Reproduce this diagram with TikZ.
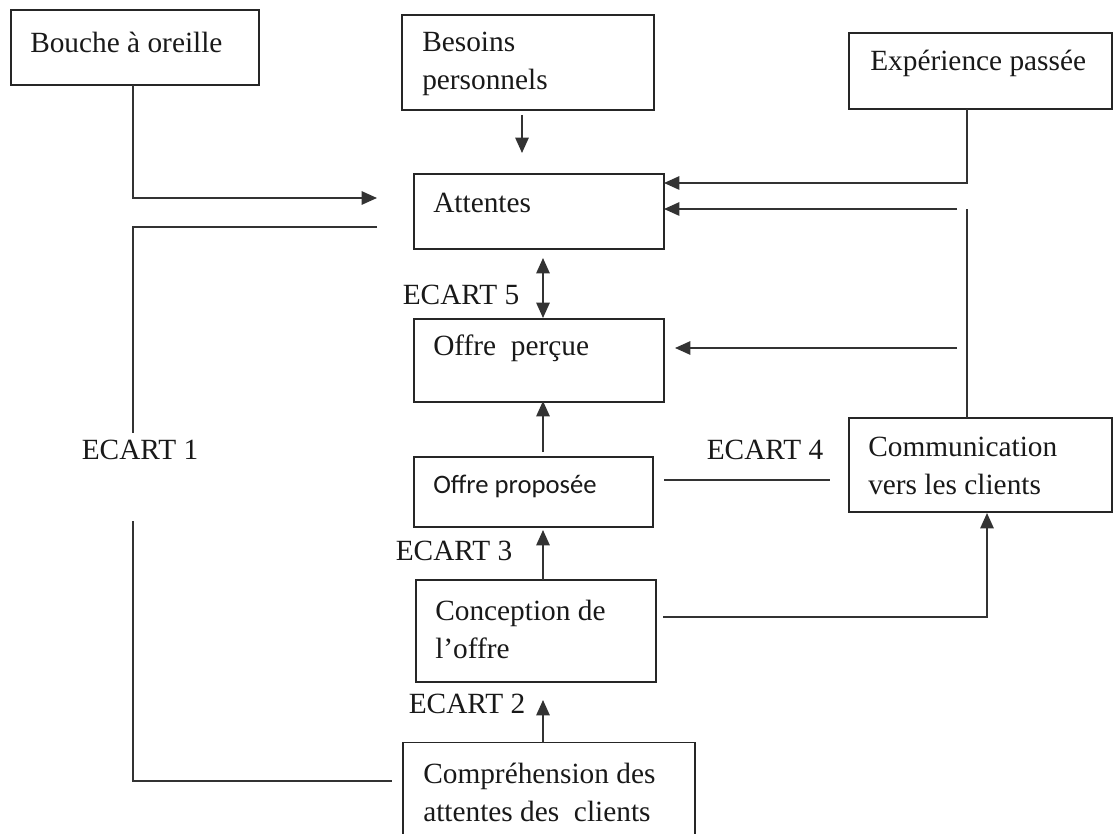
\documentclass[tikz,border=0pt]{standalone}
\usepackage{fontspec}
\setmainfont{Liberation Serif}
\newfontfamily\propfont{Carlito}
\usetikzlibrary{arrows.meta}
\begin{document}
\begin{tikzpicture}[x=0.75pt,y=-0.75pt,
  box/.style={draw=black!85,line width=1.3pt,inner sep=0pt,outer sep=0pt,rectangle},
  txt/.style={anchor=west,inner sep=0pt,align=left,text=black!90,
    font=\fontsize{22}{28.5}\selectfont},
  gap/.style={anchor=center,inner sep=0pt,text=black!90,font=\fontsize{22}{26}\selectfont},
  wire/.style={draw=black!80,line width=1.3pt},
  arr/.style={wire,-{Triangle[length=11.5pt,width=10pt]}},
  darr/.style={wire,{Triangle[length=11.5pt,width=10pt]}-{Triangle[length=11.5pt,width=10pt]}}]
\useasboundingbox[fill=white] (0,0) rectangle (1114,834);

% boxes
\node[box,minimum width=186pt,minimum height=56.25pt] (bouche) at (135,47.5) {};
\node[box,minimum width=189pt,minimum height=71.25pt] (besoins) at (528,62.5) {};
\node[box,minimum width=197.25pt,minimum height=57pt] (exp) at (980.5,71) {};
\node[box,minimum width=187.5pt,minimum height=56.25pt] (att) at (539,211.5) {};
\node[box,minimum width=187.5pt,minimum height=62.25pt] (perc) at (539,360.5) {};
\node[box,minimum width=179.25pt,minimum height=52.5pt] (prop) at (533.5,492) {};
\node[box,minimum width=197.25pt,minimum height=70.5pt] (comm) at (980.5,465) {};
\node[box,minimum width=180pt,minimum height=76.5pt] (conc) at (536,631) {};
\node[box,minimum width=219pt,minimum height=81pt] (compr) at (549,796.5) {};

% box texts
\node[txt] (tbouche) at (30,42) {Bouche à oreille};
\node[txt] (tbesoins) at (422,64) {Besoins\\personnels};
\node[txt] (texp) at (870,63) {Expérience passée};
\node[txt] (tatt) at (433,203) {Attentes};
\node[txt] (tperc) at (433,348) {Offre\ \ perçue};
\node[txt,font=\propfont\fontsize{20}{24}\selectfont] (tprop) at (433,486) {Offre proposée};
\node[txt] (tcomm) at (868,466) {Communication\\vers les clients};
\node[txt] (tconc) at (435,629) {Conception de\\l’offre};
\node[txt] (tcompr) at (423,792) {Compréhension des\\attentes des\ \ clients};

% gap labels
\node[gap] (e1) at (140,450) {ECART 1};
\node[gap] (e2) at (467,704) {ECART 2};
\node[gap] (e3) at (454,551) {ECART 3};
\node[gap] (e4) at (765,450) {ECART 4};
\node[gap] (e5) at (461,295) {ECART 5};

% connectors
\draw[arr] ([shift={(-6,5)}]besoins.south) -- ([shift={(-17,-21)}]att.north);
\draw[arr] ([xshift=-1.5pt]bouche.south) |- ([shift={(-37,-13.5)}]att.west);
\draw[wire] ([shift={(-37,15.5)}]att.west) -| ([shift={(-7,-7)}]e1.north);
\draw[wire] ([shift={(-7,61)}]e1.south) |- ([shift={(-11,-15.5)}]compr.west);
\draw[arr] ([xshift=-10.125pt]exp.south) |- ([yshift=21.375pt]att.east);
\draw[wire] ([xshift=-10.125pt]comm.north) -- ([shift={(-13.5,-209)}]comm.north -| comm.north);
\draw[arr] ([shift={(-23.5,-2.5)}]att.east -| comm.north) -- ([yshift=1.875pt]att.east);
\draw[arr] ([shift={(-23.5,-12.5)}]perc.east -| comm.north) -- ([shift={(11,-12.5)}]perc.east);
\draw[darr] ([shift={(4,9)}]att.south) -- ([shift={(4,-1)}]perc.north);
\draw[arr] ([shift={(9.5,-5)}]prop.north) -- ([shift={(9.5,-1)}]perc.south -| prop.north);
\draw[wire] ([shift={(11,-12)}]prop.east) -- ([shift={(-19,15)}]comm.west);
\draw[arr] ([shift={(7,-14)}]conc.east) -| ([shift={(6.5,1)}]comm.south);
\draw[arr] ([xshift=5.25pt]conc.north) -- ([shift={(9.5,3)}]prop.south);
\draw[arr] ([xshift=-4.5pt]compr.north) -- ([shift={(7,18)}]conc.south);
\end{tikzpicture}
\end{document}
